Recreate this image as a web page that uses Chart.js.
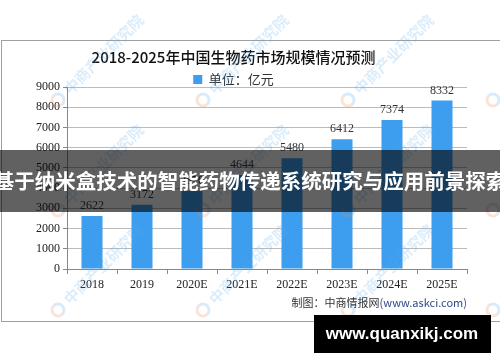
<!DOCTYPE html>
<html>
<head>
<meta charset="utf-8">
<script src="https://cdn.jsdelivr.net/npm/chart.js@4.4.1/dist/chart.umd.min.js"></script>
<style>
  body { margin: 0; background: #fff; }
  canvas { display: block; }
</style>
</head>
<body>
<canvas id="grafik" width="500" height="362"></canvas>
<script>
// data dari gambar
const tahun = ['2018', '2019', '2020E', '2021E', '2022E', '2023E', '2024E', '2025E'];
const nilai = [2622, 3172, 3870, 4644, 5480, 6412, 7374, 8332];
const tickY = [0, 1000, 2000, 3000, 4000, 5000, 6000, 7000, 8000, 9000];

const judul = '2018-2025年中国生物药市场规模情况预测';
const labelSeri = '单位：亿元';
const sumber1 = '制图：中商情报网';
const sumber2 = '(www.askci.com)';
const banner = '基于纳米盒技术的智能药物传递系统研究与应用前景探索';
const situs = 'www.quanxikj.com';
const watermark = '中商产业研究院';

const warnaBar = '#3d9ef0';
const fontCJK = '"Noto Sans CJK SC", "DejaVu Sans", sans-serif';
const fontAngka = '"Liberation Serif", serif';

function gambarWatermark(c, x, y) {
    c.save();
    c.translate(x, y);
    c.rotate(-Math.PI / 4);
    c.globalAlpha = 0.22;
    c.lineWidth = 3;
    c.strokeStyle = '#f08050';
    c.beginPath();
    c.arc(0, 0, 6, Math.PI * 0.5, Math.PI * 1.5);
    c.stroke();
    c.strokeStyle = '#50a0e0';
    c.beginPath();
    c.arc(0, 0, 6, Math.PI * 1.5, Math.PI * 0.5);
    c.stroke();
    c.fillStyle = '#5aa8e6';
    c.font = 'bold 15px ' + fontCJK;
    c.textBaseline = 'middle';
    c.textAlign = 'left';
    c.fillText(watermark, 12, 0);
    c.restore();
}

// plugin gambar tambahan (border, label, banner)
const hiasan = {
    id: 'hiasan',
    beforeDraw(chart) {
        const c = chart.ctx;
        c.save();
        c.fillStyle = '#fff';
        c.fillRect(0, 0, chart.width, chart.height);
        c.strokeStyle = '#a0a0a0';
        c.lineWidth = 1;
        c.strokeRect(1.5, 40.5, 499, 281);
        c.restore();
    },
    afterDatasetsDraw(chart) {
        const c = chart.ctx;
        const meta = chart.getDatasetMeta(0);
        c.save();
        c.font = '12px ' + fontAngka;
        c.fillStyle = '#333';
        c.textAlign = 'center';
        c.textBaseline = 'bottom';
        meta.data.forEach((bar, i) => {
            c.fillText(nilai[i], bar.x, bar.y - 4);
        });
        c.restore();
    },
    afterDraw(chart) {
        const c = chart.ctx;
        c.save();
        // sumber
        c.font = '11px ' + fontCJK;
        c.textBaseline = 'middle';
        c.textAlign = 'left';
        let w1 = c.measureText(sumber1).width;
        let w2 = c.measureText(sumber2).width;
        let x0 = 467 - w1 - w2;
        c.fillStyle = '#333';
        c.fillText(sumber1, x0, 303);
        c.fillStyle = '#2a4a8a';
        c.fillText(sumber2, x0 + w1, 303);

        // watermark samar
        [100, 210, 310].forEach(y => {
            [58, 203, 348, 493].forEach(x => gambarWatermark(c, x, y));
        });

        // banner gelap
        c.fillStyle = 'rgba(0, 0, 0, 0.62)';
        c.fillRect(0, 150, 500, 62);
        c.fillStyle = '#fff';
        c.font = 'bold 20.5px ' + fontCJK;
        c.textAlign = 'center';
        c.fillText(banner, 250, 181);

        // kotak situs
        c.fillStyle = '#000';
        c.fillRect(314, 315, 177, 38);
        c.fillStyle = '#fff';
        c.font = 'bold 17px "Liberation Sans", sans-serif';
        c.fillText(situs, 402, 334);
        c.restore();
    }
};

const ctx = document.getElementById('grafik').getContext('2d');
const grafik = new Chart(ctx, {
    type: 'bar',
    data: {
        labels: tahun,
        datasets: [{
            label: labelSeri,
            data: nilai,
            backgroundColor: warnaBar,
            barPercentage: 0.42,
            categoryPercentage: 1
        }]
    },
    options: {
        responsive: false,
        animation: false,
        layout: {
            autoPadding: false,
            padding: { top: 48, right: 33, bottom: 0, left: 0 }
        },
        plugins: {
            title: {
                display: true,
                text: judul,
                color: '#111',
                font: { family: fontCJK, size: 15, weight: '500' },
                padding: { top: 0, bottom: 4 }
            },
            legend: {
                position: 'top',
                maxHeight: 17,
                labels: {
                    color: '#333',
                    font: { family: fontCJK, size: 13 },
                    boxWidth: 9,
                    boxHeight: 9,
                    padding: 3
                }
            },
            tooltip: { enabled: false }
        },
        scales: {
            x: {
                afterFit: s => { s.height = 93; },
                grid: {
                    offset: true,
                    drawOnChartArea: false,
                    drawTicks: true,
                    tickLength: 5,
                    color: '#888'
                },
                border: { display: true, color: '#888' },
                ticks: {
                    color: '#222',
                    font: { family: fontAngka, size: 12 },
                    padding: 4
                }
            },
            y: {
                min: 0,
                max: 9000,
                afterFit: s => { s.width = 67; },
                afterBuildTicks: s => { s.ticks = tickY.map(v => ({ value: v })); },
                grid: {
                    color: '#bbb',
                    borderDash: [4, 3],
                    drawTicks: true,
                    tickLength: 4,
                    tickColor: '#888',
                    tickBorderDash: []
                },
                border: { display: true, color: '#888' },
                ticks: {
                    color: '#222',
                    font: { family: fontAngka, size: 12 },
                    padding: 3,
                    callback: v => String(v)
                }
            }
        }
    },
    plugins: [hiasan]
});
</script>
</body>
</html>
